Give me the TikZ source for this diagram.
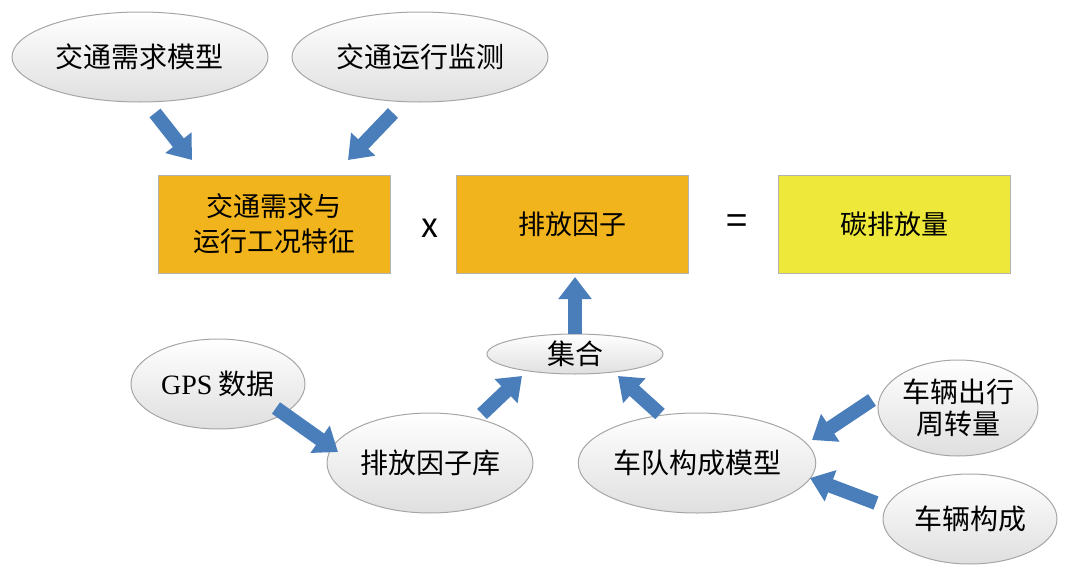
\documentclass[tikz,border=0pt]{standalone}
\usepackage{fontspec}
\setmainfont{Noto Sans CJK SC}
\newfontfamily\latinf{Liberation Serif}
\usetikzlibrary{shapes.geometric,arrows.meta}
\definecolor{orng}{HTML}{F2B41C}
\definecolor{yel}{HTML}{EDE83A}
\definecolor{blu}{HTML}{4A7EBB}
\tikzset{
 ell/.style={ellipse,draw=gray!70,line width=1pt,top color=white,bottom color=gray!25,inner sep=0pt,font=\fontsize{28}{32}\selectfont,align=center},
 box/.style={rectangle,draw=gray!60,line width=0.8pt,minimum width=232pt,minimum height=98pt,font=\fontsize{27}{35}\selectfont,align=center},
 barrow/.style={blu,line width=14pt,-{Triangle[width=32pt,length=22pt]}}
}
\begin{document}
\begin{tikzpicture}[x=1pt,y=-1pt]
\useasboundingbox (0,0) rectangle (1080,581);
\node[ell,minimum width=256pt,minimum height=90pt] (a) at (140,57) {交通需求模型};
\node[ell,minimum width=256pt,minimum height=90pt] (b) at (420,57) {交通运行监测};
\node[box,fill=orng] (b1) at (274,224) {交通需求与\\运行工况特征};
\node[box,fill=orng] (b2) at (572,224) {排放因子};
\node[box,fill=yel] (b3) at (894,224) {碳排放量};
\node[font=\fontsize{34}{34}\selectfont] (x) at (430,228) {x};
\node[font=\fontsize{38}{38}\selectfont] (eq) at (737,225) {=};
\node[ell,minimum width=176pt,minimum height=40pt] (jh) at (575,354) {集合};
\node[ell,minimum width=174pt,minimum height=90pt] (gps) at (218,384) {{\latinf GPS} 数据};
\node[ell,minimum width=206pt,minimum height=100pt] (k) at (430,463) {排放因子库};
\node[ell,minimum width=230pt,minimum height=100pt] (m) at (697,463) {车队构成模型};
\node[ell,minimum width=160pt,minimum height=96pt] (z) at (958,408) {车辆出行\\周转量};
\node[ell,minimum width=174pt,minimum height=90pt] (g) at (970,519) {车辆构成};
\coordinate (a1) at (155,113); \coordinate (a2) at (192,160);
\coordinate (c1) at (393,113); \coordinate (c2) at (348,160);
\coordinate (d1) at (575,334); \coordinate (d2) at (575,277);
\coordinate (e1) at (276,408); \coordinate (e2) at (338,452);
\coordinate (f1) at (482,414); \coordinate (f2) at (522,376);
\coordinate (h1) at (660,414); \coordinate (h2) at (618,376);
\coordinate (i1) at (872,400); \coordinate (i2) at (812,440);
\coordinate (j1) at (876,503); \coordinate (j2) at (810,478);
\draw[barrow] (a1)--(a2);
\draw[barrow] (c1)--(c2);
\draw[barrow] (d1)--(d2);
\draw[barrow] (e1)--(e2);
\draw[barrow] (f1)--(f2);
\draw[barrow] (h1)--(h2);
\draw[barrow] (i1)--(i2);
\draw[barrow] (j1)--(j2);
\end{tikzpicture}
\end{document}
